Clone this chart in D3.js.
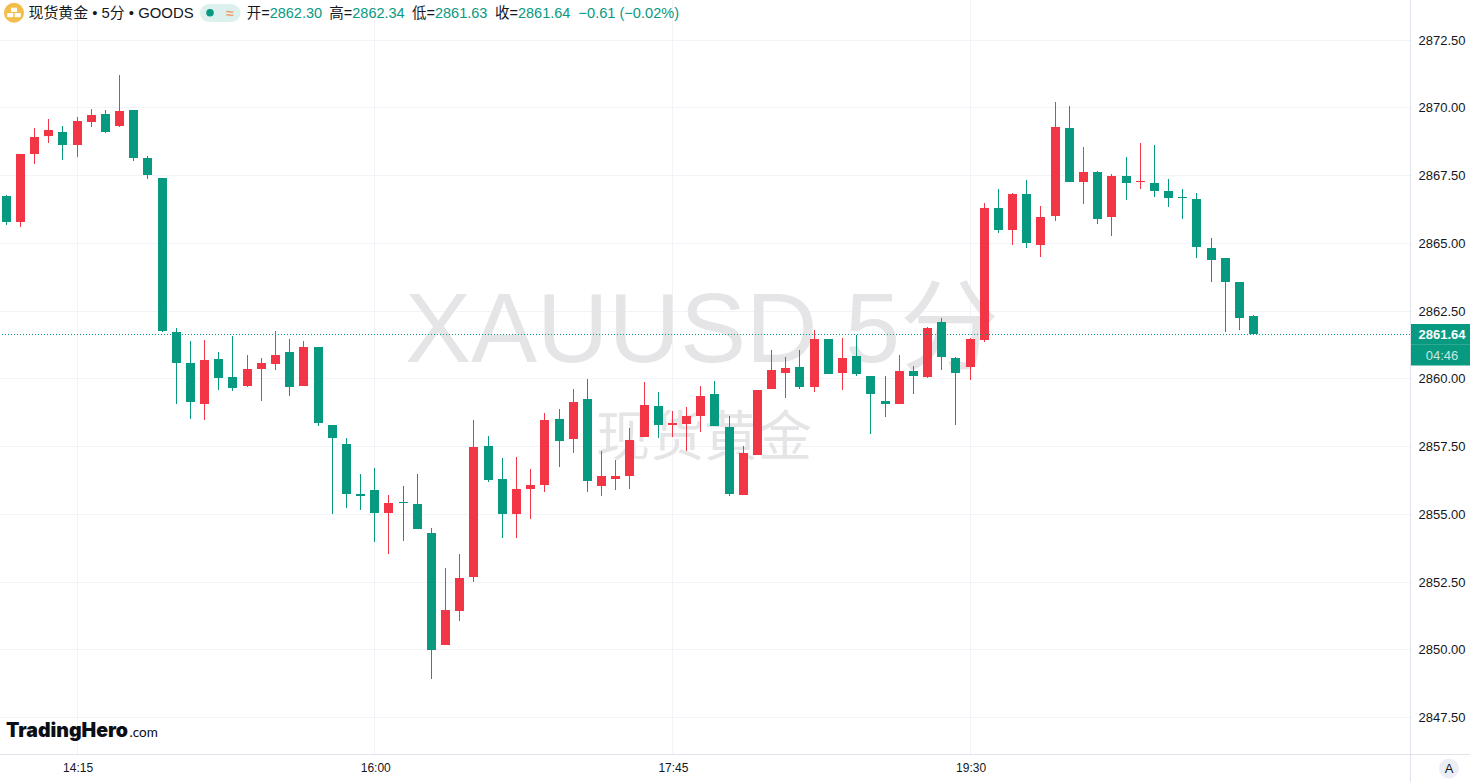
<!DOCTYPE html>
<html><head><meta charset="utf-8">
<script src="https://cdn.jsdelivr.net/npm/d3@7/dist/d3.min.js"></script>
<style>
html,body{margin:0;padding:0;background:#fff;overflow:hidden}
svg{display:block}
text{font-family:"Liberation Sans",Arial,sans-serif}
</style></head><body>
<svg id="c" width="1470" height="782"></svg>
<script>
const opens=[2866.73,2865.77,2868.28,2868.94,2869.09,2868.61,2869.46,2869.75,2869.31,2869.90,2868.13,2867.39,2861.71,2860.57,2859.05,2860.71,2860.05,2859.72,2860.34,2860.53,2860.97,2859.72,2861.16,2858.28,2857.58,2855.73,2855.88,2855.03,2855.44,2855.36,2854.29,2850.16,2851.41,2852.67,2857.50,2856.29,2854.99,2855.92,2856.06,2858.50,2857.76,2859.24,2856.03,2856.29,2856.40,2857.84,2858.98,2858.28,2858.31,2858.61,2859.42,2858.20,2855.70,2857.17,2859.61,2860.20,2860.42,2859.68,2861.45,2860.20,2860.82,2860.09,2859.16,2859.05,2860.27,2860.05,2862.08,2860.75,2860.42,2861.41,2866.29,2865.47,2866.80,2864.92,2865.99,2869.24,2867.24,2867.61,2865.95,2867.47,2867.24,2867.21,2866.91,2866.69,2866.62,2864.81,2864.44,2863.55,2862.30];
const highs=[2866.76,2868.28,2869.24,2869.57,2869.31,2869.64,2869.94,2869.90,2871.19,2869.90,2868.20,2867.39,2861.86,2861.38,2861.41,2860.97,2861.56,2860.86,2860.75,2861.75,2861.45,2861.38,2861.16,2858.28,2857.80,2856.47,2856.69,2855.70,2856.03,2856.47,2854.48,2853.00,2853.52,2858.46,2857.87,2857.06,2857.10,2856.65,2858.72,2858.87,2859.61,2859.98,2857.32,2856.99,2858.17,2859.86,2859.50,2858.79,2858.94,2859.72,2859.90,2858.61,2857.50,2859.57,2861.05,2860.79,2861.05,2861.78,2861.45,2861.49,2861.60,2860.09,2860.09,2860.86,2860.46,2861.89,2862.23,2860.79,2861.49,2866.47,2866.99,2866.84,2867.32,2866.36,2870.20,2870.05,2868.54,2867.65,2867.54,2868.17,2868.68,2868.61,2867.36,2866.99,2866.84,2865.18,2864.44,2863.55,2862.34];
const lows=[2865.66,2865.58,2867.91,2868.68,2868.06,2868.17,2869.27,2869.05,2869.27,2868.02,2867.36,2861.71,2859.05,2858.50,2858.46,2859.57,2859.53,2859.68,2859.16,2860.31,2859.35,2859.72,2858.24,2854.99,2855.22,2855.14,2853.96,2853.52,2854.00,2854.44,2848.91,2850.16,2851.05,2852.48,2856.17,2854.11,2854.11,2854.81,2855.81,2856.73,2857.24,2855.81,2855.66,2855.88,2855.92,2857.84,2857.80,2857.84,2857.32,2858.02,2858.24,2855.66,2855.70,2857.17,2859.61,2859.27,2859.61,2859.50,2860.16,2859.57,2860.09,2857.95,2858.57,2859.05,2859.42,2860.01,2860.31,2858.28,2859.94,2861.34,2865.36,2864.92,2864.81,2864.48,2865.81,2867.24,2866.43,2865.69,2865.25,2866.58,2866.99,2866.69,2866.32,2865.88,2864.44,2863.55,2861.71,2861.78,2861.63];
const closes=[2865.77,2868.28,2868.91,2869.16,2868.61,2869.50,2869.72,2869.09,2869.86,2868.13,2867.50,2861.75,2860.57,2859.13,2860.68,2860.01,2859.64,2860.34,2860.57,2860.86,2859.68,2861.16,2858.35,2857.80,2855.73,2855.66,2855.03,2855.40,2855.40,2854.44,2849.98,2851.45,2852.63,2857.47,2856.25,2854.99,2855.92,2856.06,2858.46,2857.69,2859.13,2856.21,2856.40,2856.40,2857.72,2859.02,2858.28,2858.35,2858.61,2859.35,2858.24,2855.73,2857.24,2859.57,2860.31,2860.38,2859.68,2861.45,2860.16,2860.75,2860.16,2859.42,2859.05,2860.27,2860.09,2861.86,2860.79,2860.20,2861.45,2866.29,2865.47,2866.80,2864.99,2865.95,2869.27,2867.24,2867.61,2865.88,2867.47,2867.21,2867.28,2866.91,2866.65,2866.65,2864.85,2864.37,2863.55,2862.23,2861.64];
const priceTicks=[2872.5,2870,2867.5,2865,2862.5,2860,2857.5,2855,2852.5,2850,2847.5];
const timeIndex=[5,26,47,68];
const timeLabels=["14:15","16:00","17:45","19:30"];
const lastPrice=2861.64;
const legendLabels=["开=","高=","低=","收="];
const legendValues=["2862.30","2862.34","2861.63","2861.64"];
const legendChange="−0.61 (−0.02%)";

const UP="#F23645",DOWN="#089981",GRID="#F2F3F8",BORDER="#E0E3EB",INK="#131722",WM="#E5E5E7";
const W=1470,H=782,PLOT_R=1410,PLOT_B=754;
const svg=d3.select("#c");
const x=d3.scaleLinear().domain([0,88]).range([6.2,1253.6]);
const y=d3.scaleLinear().domain([2870,2850]).range([107.3,649.3]);
const snap=v=>Math.floor(v)+.5;
const cx=i=>snap(x(i));
const lineY=p=>snap(y(p)+.6);

// grid
const g=svg.append("g");
g.selectAll("line.h").data(priceTicks).join("line").attr("class","h")
 .attr("x1",0).attr("x2",PLOT_R).attr("y1",d=>lineY(d)).attr("y2",d=>lineY(d))
 .attr("stroke",GRID).attr("shape-rendering","crispEdges");
g.selectAll("line.v").data(timeIndex).join("line").attr("class","v")
 .attr("y1",0).attr("y2",PLOT_B).attr("x1",d=>cx(d)).attr("x2",d=>cx(d))
 .attr("stroke",GRID).attr("shape-rendering","crispEdges");

// watermark
svg.append("text").attr("x",702).attr("y",362).attr("text-anchor","middle")
 .style("font-family",'"Liberation Sans","Noto Sans CJK SC",sans-serif')
 .style("font-size","99px").attr("fill",WM).text("XAUUSD 5分");
svg.append("text").attr("x",704).attr("y",456).attr("text-anchor","middle")
 .style("font-family",'"Noto Sans CJK SC",sans-serif')
 .style("font-size","54px").attr("fill",WM).text("现货黄金");

// candles
const idx=d3.range(opens.length);
const col=i=>closes[i]>=opens[i]?UP:DOWN;
const cg=svg.append("g").attr("shape-rendering","crispEdges");
cg.selectAll("rect.w").data(idx).join("rect").attr("class","w")
 .attr("x",i=>cx(i)-.5).attr("width",1)
 .attr("y",i=>Math.round(y(highs[i])))
 .attr("height",i=>Math.max(1,Math.round(y(lows[i]))-Math.round(y(highs[i]))))
 .attr("fill",col);
cg.selectAll("rect.b").data(idx).join("rect").attr("class","b")
 .attr("x",i=>cx(i)-4.5).attr("width",9)
 .attr("y",i=>Math.round(y(Math.max(opens[i],closes[i]))))
 .attr("height",i=>Math.max(1,Math.round(y(Math.min(opens[i],closes[i])))-Math.round(y(Math.max(opens[i],closes[i])))))
 .attr("fill",col);

// last price line
svg.append("line").attr("x1",2).attr("x2",PLOT_R)
 .attr("y1",lineY(lastPrice)).attr("y2",lineY(lastPrice))
 .attr("stroke",DOWN).attr("stroke-dasharray","1 2");

// axes
const yAxis=d3.axisRight(y).tickValues(priceTicks).tickSize(0).tickPadding(0).tickFormat(d3.format(".2f"));
const ya=svg.append("g").attr("transform",`translate(1418.5,0.5)`).call(yAxis);
ya.select(".domain").remove();
ya.selectAll("text").style("font-family",'"Liberation Sans",Arial,sans-serif').style("font-size","13px").attr("fill",INK);
const xAxis=d3.axisBottom(x).tickValues(timeIndex).tickSize(0).tickPadding(0).tickFormat((d,i)=>timeLabels[i]);
const xa=svg.append("g").attr("transform",`translate(0.5,763.5)`).call(xAxis);
xa.select(".domain").remove();
xa.selectAll("text").style("font-family",'"Liberation Sans",Arial,sans-serif').style("font-size","12px").attr("fill",INK).attr("dy",".71em").attr("y",0);
svg.append("line").attr("x1",PLOT_R+.5).attr("x2",PLOT_R+.5).attr("y1",0).attr("y2",H).attr("stroke",BORDER).attr("shape-rendering","crispEdges");
svg.append("line").attr("x1",0).attr("x2",W).attr("y1",PLOT_B+.5).attr("y2",PLOT_B+.5).attr("stroke",BORDER).attr("shape-rendering","crispEdges");

// price tag
svg.append("rect").attr("x",1411).attr("y",324).attr("width",59).attr("height",41.5).attr("fill",DOWN);
svg.append("line").attr("x1",1411).attr("x2",1470).attr("y1",344.5).attr("y2",344.5).attr("stroke","#2CA893").attr("shape-rendering","crispEdges");
svg.append("text").attr("x",1442).attr("y",339).attr("text-anchor","middle").style("font-size","13px").style("font-weight","700").attr("fill","#fff").text(d3.format(".2f")(lastPrice));
svg.append("text").attr("x",1442).attr("y",360).attr("text-anchor","middle").style("font-size","13px").attr("fill","#C6E8E2").text("04:46");

// A button
svg.append("circle").attr("cx",1449).attr("cy",768.5).attr("r",10).attr("fill","#ECEEF5");
svg.append("text").attr("x",1449).attr("y",773).attr("text-anchor","middle").style("font-size","13px").attr("fill",INK).text("A");

// header
svg.append("circle").attr("cx",14).attr("cy",12.7).attr("r",10).attr("fill","#F2BD4B");
[[11,7.7],[7.3,13],[14.7,13]].forEach(p=>svg.append("rect").attr("x",p[0]).attr("y",p[1]).attr("width",6).attr("height",4.2).attr("fill","#fff"));
svg.append("text").attr("x",28.5).attr("y",18).style("font-family",'"Liberation Sans","Noto Sans CJK SC",sans-serif').style("font-size","14.9px").attr("fill",INK).text("现货黄金 • 5分 • GOODS");
svg.append("rect").attr("x",200).attr("y",4).attr("width",40.5).attr("height",18).attr("rx",9).attr("fill","#DCF0ED");
svg.append("circle").attr("cx",210).attr("cy",12.7).attr("r",3.8).attr("fill",DOWN);
svg.append("text").attr("x",230).attr("y",17.5).attr("text-anchor","middle").style("font-size","14px").style("font-weight","700").attr("fill","#F59A6E").text("≈");
const lblX=[246.7,329.3,412,495];
const cjk='"Liberation Sans","Noto Sans CJK SC",sans-serif';
legendLabels.forEach((l,i)=>{
  const t=svg.append("text").attr("x",lblX[i]).attr("y",18).style("font-family",cjk).style("font-size","14.5px").attr("fill",INK);
  t.append("tspan").text(l);
  t.append("tspan").attr("fill",DOWN).text(legendValues[i]);
});
svg.append("text").attr("x",578.5).attr("y",18).style("font-size","14.6px").attr("fill",DOWN).text(legendChange);

// brand
svg.append("text").attr("x",6).attr("y",737).style("font-family","Inter,sans-serif").style("font-weight","900").style("font-size","19.5px").attr("fill","#0B0E14").text("TradingHero");
svg.append("text").attr("x",129.5).attr("y",737).style("font-family","Lato,sans-serif").style("font-size","13.5px").attr("fill","#0B0E14").text(".com");
</script>
</body></html>
